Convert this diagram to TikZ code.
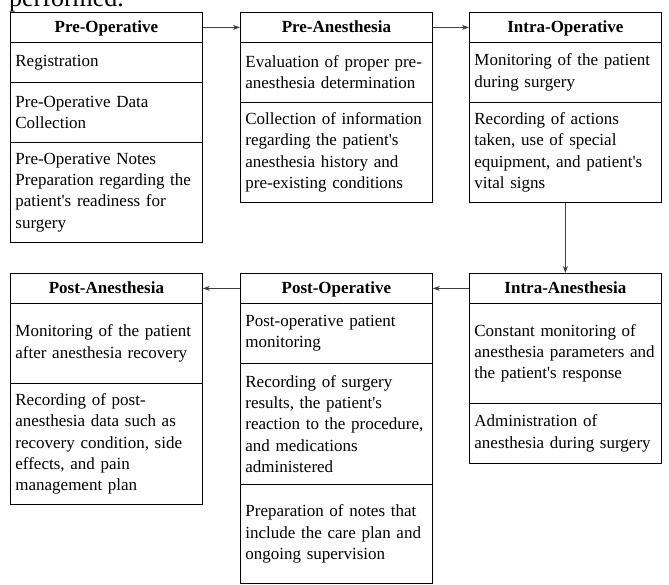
\documentclass[tikz,border=0pt]{standalone}
\usepackage{fontspec}
\setmainfont{Liberation Serif}[Ligatures=TeXOff]
\usetikzlibrary{arrows.meta}
\begin{document}
\begin{tikzpicture}[x=1pt,y=-1pt,
  txt/.style={font=\fontsize{17}{21.3}\selectfont},
  sec/.style={draw=black, line width=0.8pt, anchor=north west, inner xsep=5pt, inner ysep=0pt,
    align=left, text width=182pt, minimum height=#1, txt},
  head/.style={draw=black, line width=0.8pt, anchor=north west, inner xsep=5pt, inner ysep=0pt,
    align=center, text width=182pt, minimum height=30pt, text height=12pt, text depth=2pt,
    font=\fontsize{17}{21.3}\selectfont\bfseries},
  arr/.style={draw=black!75, line width=0.8pt, -{Stealth[length=7pt,width=5pt]}}
]
\useasboundingbox (0,0) rectangle (669,585);
\clip (0,0) rectangle (669,585);
\node[anchor=base west, inner sep=0pt, font=\fontsize{26}{26}\selectfont] (perf) at (9,7) {performed.};

% Pre-Operative
\node[head] (poh) at (10,12) {Pre-Operative};
\node[sec=40pt] (po1) at (10,42) {Registration};
\node[sec=60pt] (po2) at (10,82) {Pre-Operative Data\\Collection};
\node[sec=100pt] (po3) at (10,142) {Pre-Operative Notes\\Preparation regarding the\\patient's readiness for\\surgery};

% Pre-Anesthesia
\node[head] (pah) at (240,12) {Pre-Anesthesia};
\node[sec=60pt] (pa1) at (240,42) {Evaluation of proper pre-\\anesthesia determination};
\node[sec=100pt] (pa2) at (240,102) {Collection of information\\regarding the patient's\\anesthesia history and\\pre-existing conditions};

% Intra-Operative
\node[head] (ioh) at (469,12) {Intra-Operative};
\node[sec=60pt] (io1) at (469,42) {Monitoring of the patient\\during surgery};
\node[sec=100pt] (io2) at (469,102) {Recording of actions\\taken, use of special\\equipment, and patient's\\vital signs};

% Intra-Anesthesia
\node[head] (iah) at (469,273) {Intra-Anesthesia};
\node[sec=100pt] (ia1) at (469,303) {Constant monitoring of\\anesthesia parameters and\\the patient's response};
\node[sec=60pt] (ia2) at (469,403) {Administration of\\anesthesia during surgery};

% Post-Operative
\node[head] (poph) at (240,273) {Post-Operative};
\node[sec=60pt] (pop1) at (240,303) {Post-operative patient\\monitoring};
\node[sec=121pt] (pop2) at (240,363) {Recording of surgery\\results, the patient's\\reaction to the procedure,\\and medications\\administered};
\node[sec=99pt] (pop3) at (240,484) {Preparation of notes that\\include the care plan and\\ongoing supervision};

% Post-Anesthesia
\node[head] (pah2) at (10,273) {Post-Anesthesia};
\node[sec=80pt] (pan1) at (10,303) {Monitoring of the patient\\after anesthesia recovery};
\node[sec=121pt] (pan2) at (10,383) {Recording of post-\\anesthesia data such as\\recovery condition, side\\effects, and pain\\management plan};

% Connectors
\draw[arr] (poh.east) -- (pah.west);
\draw[arr] (pah.east) -- (ioh.west);
\draw[arr] (io2.south) -- (iah.north);
\draw[arr] (iah.west) -- (poph.east);
\draw[arr] (poph.west) -- (pah2.east);
\end{tikzpicture}
\end{document}
